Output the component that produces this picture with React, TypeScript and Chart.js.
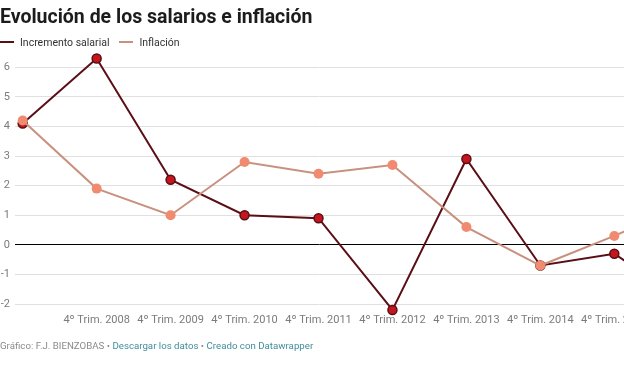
import React, { useEffect, useRef } from "react";
import { Chart, registerables } from "chart.js";
Chart.register(...registerables);

const categories = [
  "4º Trim. 2007",
  "4º Trim. 2008",
  "4º Trim. 2009",
  "4º Trim. 2010",
  "4º Trim. 2011",
  "4º Trim. 2012",
  "4º Trim. 2013",
  "4º Trim. 2014",
  "4º Trim. 2015",
  "4º Trim. 2016",
];
const salario = [4.1, 6.3, 2.2, 1.0, 0.9, -2.2, 2.9, -0.7, -0.3, -2.0];
const inflacion = [4.2, 1.9, 1.0, 2.8, 2.4, 2.7, 0.6, -0.7, 0.3, 1.4];
const yTicks = [-2, -1, 0, 1, 2, 3, 4, 5, 6];

const FONT = "Roboto, 'Noto Sans', sans-serif";
const SAL_LINE = "#5a0e15";
const SAL_POINT = "#c5161d";
const INF_LINE = "#c8917f";
const INF_POINT = "#f08b6f";

export default function App() {
  const ref = useRef<HTMLCanvasElement | null>(null);

  useEffect(() => {
    if (!ref.current) return;
    const chart = new Chart(ref.current, {
      type: "line",
      data: {
        datasets: [
          {
            label: "Incremento salarial",
            data: salario.map((v, i) => ({ x: i, y: v })),
            borderColor: SAL_LINE,
            borderWidth: 2,
            pointRadius: 4.5,
            pointBackgroundColor: SAL_POINT,
            pointBorderColor: SAL_LINE,
            pointBorderWidth: 1.5,
            tension: 0,
            clip: false,
            order: 2,
          },
          {
            label: "Inflación",
            data: inflacion.map((v, i) => ({ x: i, y: v })),
            borderColor: INF_LINE,
            borderWidth: 2,
            pointRadius: 5,
            pointBackgroundColor: INF_POINT,
            pointBorderColor: INF_POINT,
            pointBorderWidth: 0,
            tension: 0,
            clip: false,
            order: 1,
          },
        ],
      },
      options: {
        animation: false,
        responsive: false,
        devicePixelRatio: 1,
        layout: { autoPadding: false, padding: { top: 52.5, bottom: 57, left: 0, right: 0 } },
        plugins: {
          legend: { display: false },
          tooltip: { enabled: false },
          title: { display: false },
        },
        scales: {
          x: {
            type: "linear",
            min: -0.104,
            max: 8.131,
            grid: { display: false, drawTicks: false },
            border: { display: false },
            afterBuildTicks: (scale: any) => {
              scale.ticks = categories.map((_, i) => ({ value: i }));
            },
            afterFit: (scale: any) => {
              scale.height = 30;
              scale.paddingLeft = 0;
              scale.paddingRight = 0;
            },
            ticks: {
              autoSkip: false,
              maxRotation: 0,
              minRotation: 0,
              padding: 10,
              color: "#7b7b7b",
              font: { family: FONT, size: 11 },
              callback: (value: any) => (value === 0 ? "" : categories[value] ?? ""),
            },
          },
          y: {
            min: -2,
            max: 6.5,
            afterBuildTicks: (scale: any) => {
              scale.ticks = yTicks.map((v) => ({ value: v }));
            },
            afterFit: (scale: any) => {
              scale.width = 15;
            },
            border: { display: false },
            grid: {
              drawTicks: false,
              lineWidth: 1,
              color: (ctx: any) => (ctx.tick && ctx.tick.value === 0 ? "#000000" : "#e0e0e0"),
            },
            ticks: {
              padding: 5,
              color: "#7b7b7b",
              font: { family: FONT, size: 11 },
              callback: (value: any) => String(value),
            },
          },
        },
      },
    });
    return () => chart.destroy();
  }, []);

  const legendItem = (color: string, text: string, ml: number) => (
    <span style={{ display: "inline-flex", alignItems: "center", marginLeft: ml }}>
      <span
        style={{
          display: "inline-block",
          width: 14,
          height: 2,
          background: color,
          marginRight: 6,
          position: "relative",
          top: -1,
        }}
      />
      <span>{text}</span>
    </span>
  );

  return (
    <div
      style={{
        position: "fixed",
        left: 0,
        top: 0,
        width: 624,
        height: 391,
        overflow: "hidden",
        background: "#ffffff",
        fontFamily: FONT,
      }}
    >
      <canvas
        ref={ref}
        width={624}
        height={391}
        style={{ position: "absolute", left: 0, top: 0, width: 624, height: 391 }}
      />
      <div
        style={{
          position: "absolute",
          left: 0,
          top: 7,
          fontSize: 19.5,
          lineHeight: 1,
          fontWeight: 700,
          color: "#1c1c1c",
          whiteSpace: "nowrap",
        }}
      >
        Evolución de los salarios e inflación
      </div>
      <div
        style={{
          position: "absolute",
          left: 0,
          top: 38,
          fontSize: 10.5,
          lineHeight: 1,
          color: "#333333",
          whiteSpace: "nowrap",
          display: "flex",
          alignItems: "center",
        }}
      >
        {legendItem(SAL_LINE, "Incremento salarial", 0)}
        {legendItem(INF_LINE, "Inflación", 10)}
      </div>
      <div
        style={{
          position: "absolute",
          left: 0,
          top: 341,
          fontSize: 9.7,
          lineHeight: 1,
          color: "#8a8a8a",
          whiteSpace: "nowrap",
        }}
      >
        Gráfico: F.J. BIENZOBAS •{" "}
        <span style={{ color: "#3f8e9c" }}>Descargar los datos</span> •{" "}
        <span style={{ color: "#3f8e9c" }}>Creado con Datawrapper</span>
      </div>
    </div>
  );
}
